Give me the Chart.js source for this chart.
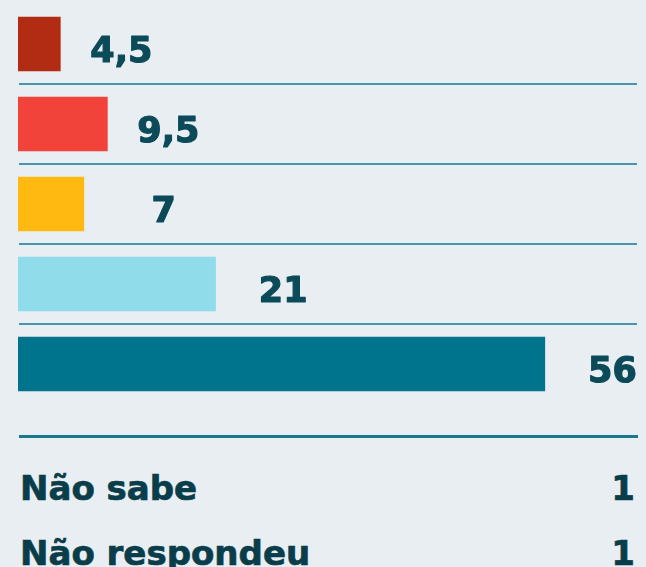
<!DOCTYPE html>
<html>
<head>
<meta charset="utf-8">
<script src="https://cdn.jsdelivr.net/npm/chart.js@4"></script>
<style>
  html, body { margin: 0; padding: 0; background: #e9eef3; }
  body { width: 646px; height: 567px; position: relative; overflow: hidden; font-family: "DejaVu Sans", sans-serif; }
  #wrap { position: absolute; left: 0; top: 0; width: 646px; height: 410px; }
  #rule { position: absolute; left: 19px; top: 435px; width: 619px; height: 3px; background: #17788e; }
  .row { position: absolute; left: 20px; width: 615px; height: 34px; line-height: 34px; font-weight: bold; font-size: 34px; color: #0a3d4a; -webkit-text-stroke: 0.7px #0a3d4a; }
  .row .lab { position: absolute; left: 0; top: 0; white-space: nowrap; }
  .row .val { position: absolute; right: 0; top: 0; }
</style>
</head>
<body>
<div id="wrap"><canvas id="c" width="646" height="410"></canvas></div>
<div id="rule"></div>
<div id="extra"></div>
<script>
const categories = ["Cat 1", "Cat 2", "Cat 3", "Cat 4", "Cat 5"];
const values = [4.5, 9.5, 7, 21, 56];
const barColors = ["#b12c12", "#f1433a", "#ffb910", "#90dcea", "#00738d"];
const extraLabels = ["Não sabe", "Não respondeu"];
const extraValues = [1, 1];

function fmt(v) { return String(v).replace(".", ","); }

const separators = {
  id: "separators",
  beforeDatasetsDraw(chart) {
    const ctx = chart.ctx;
    const y = chart.scales.y;
    ctx.save();
    ctx.strokeStyle = "#4796aa";
    ctx.lineWidth = 2;
    for (let i = 0; i < categories.length - 1; i++) {
      const py = Math.round((y.getPixelForValue(i) + y.getPixelForValue(i + 1)) / 2);
      ctx.beginPath();
      ctx.moveTo(19, py);
      ctx.lineTo(637, py);
      ctx.stroke();
    }
    ctx.restore();
  }
};

const valueLabels = {
  id: "valueLabels",
  afterDatasetsDraw(chart) {
    const ctx = chart.ctx;
    const meta = chart.getDatasetMeta(0);
    ctx.save();
    ctx.font = "bold 35px 'DejaVu Sans'";
    ctx.fillStyle = "#0b4a59";
    ctx.strokeStyle = "#0b4a59";
    ctx.lineWidth = 1.2;
    ctx.lineJoin = "round";
    ctx.textAlign = "right";
    ctx.textBaseline = "alphabetic";
    meta.data.forEach((bar, i) => {
      const t = fmt(chart.data.datasets[0].data[i]);
      ctx.fillText(t, bar.x + 92, bar.y + 18);
      ctx.strokeText(t, bar.x + 92, bar.y + 18);
    });
    ctx.restore();
  }
};

new Chart(document.getElementById("c"), {
  type: "bar",
  data: {
    labels: categories,
    datasets: [{ data: values, backgroundColor: barColors, borderWidth: 0, barThickness: 54 }]
  },
  options: {
    indexAxis: "y",
    responsive: false,
    animation: false,
    events: [],
    layout: { padding: { left: 18, right: 9, top: 4, bottom: 6 } },
    plugins: { legend: { display: false }, tooltip: { enabled: false } },
    scales: {
      x: { display: false, min: 0, max: 65.8 },
      y: { display: false }
    }
  },
  plugins: [separators, valueLabels]
});

const extra = document.getElementById("extra");
extraLabels.forEach((l, i) => {
  const row = document.createElement("div");
  row.className = "row";
  row.style.top = (471 + i * 65) + "px";
  const a = document.createElement("span"); a.className = "lab"; a.textContent = l;
  const b = document.createElement("span"); b.className = "val"; b.textContent = extraValues[i];
  row.appendChild(a); row.appendChild(b);
  extra.appendChild(row);
});
</script>
</body>
</html>
